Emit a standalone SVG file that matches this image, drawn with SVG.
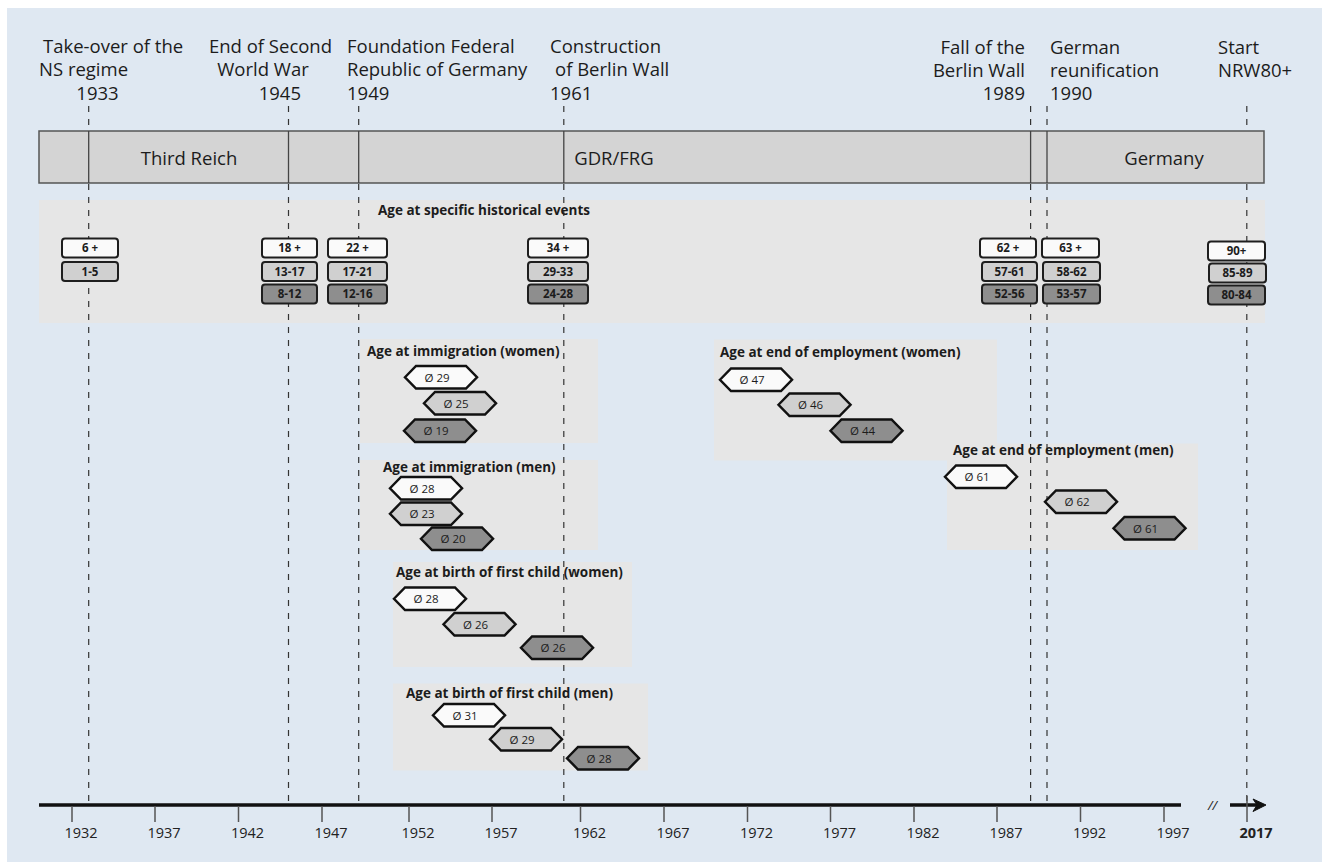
<svg xmlns="http://www.w3.org/2000/svg" xmlns:xlink="http://www.w3.org/1999/xlink" width="1322" height="862" viewBox="0 0 1322 862">
<style>
text{font-family:'Open Sans','Liberation Sans',sans-serif;fill:#1c1c1c}
.lbl{font-size:18.5px}
.ttl{font-size:13.5px;font-weight:700}
.bxt{font-size:11.5px;font-weight:700;text-anchor:middle}
.hxt{font-size:11.5px;text-anchor:middle}
.ax{font-size:14.5px;text-anchor:middle;fill:#222}
.panel{fill:#e6e6e6}
.dash{stroke:#333;stroke-width:1.2;stroke-dasharray:6 7;fill:none}
.div{stroke:#444;stroke-width:1.3}
.tick{stroke:#555;stroke-width:1.5}
.w{fill:#fafafa}.l{fill:#d0d0d0}.d{fill:#8e8e8e}
.bx{stroke:#1e1e1e;stroke-width:2}
.hex{stroke:#111;stroke-width:2.5;stroke-linejoin:miter}
</style>
<defs>
<path id="hx" d="M0,11.25 L11,0 L61,0 L72,11.25 L61,22.5 L11,22.5 Z"/>
</defs>
<rect id="background" x="7" y="8" width="1315" height="854" fill="#dfe8f2"/>

<g id="panels">
<rect id="panel-historical" class="panel" x="39" y="200" width="1226" height="123"/>
<rect id="panel-imm-women" class="panel" x="360" y="339" width="238" height="104"/>
<rect id="panel-imm-men" class="panel" x="360" y="460" width="238" height="90"/>
<rect id="panel-emp-women" class="panel" x="714" y="339.5" width="283" height="121"/>
<rect id="panel-emp-men" class="panel" x="947" y="443.5" width="251" height="106.5"/>
<rect id="panel-birth-women" class="panel" x="393" y="562" width="239" height="105"/>
<rect id="panel-birth-men" class="panel" x="393" y="683.5" width="255" height="87"/>
</g>

<g id="connectors">
<line class="dash" x1="88.7" y1="106" x2="88.7" y2="803"/>
<line class="dash" x1="288.5" y1="106" x2="288.5" y2="803"/>
<line class="dash" x1="358.7" y1="106" x2="358.7" y2="803"/>
<line class="dash" x1="563.8" y1="106" x2="563.8" y2="803"/>
<line class="dash" x1="1030.6" y1="106" x2="1030.6" y2="803"/>
<line class="dash" x1="1047" y1="106" x2="1047" y2="803"/>
<line class="dash" x1="1246.8" y1="106" x2="1246.8" y2="803"/>
</g>

<g id="period-bar">
<rect x="39" y="131" width="1225" height="52" fill="#d4d4d4" stroke="#555" stroke-width="1.5"/>
<line class="div" x1="88.7" y1="131" x2="88.7" y2="183"/>
<line class="div" x1="288.5" y1="131" x2="288.5" y2="183"/>
<line class="div" x1="358.7" y1="131" x2="358.7" y2="183"/>
<line class="div" x1="563.8" y1="131" x2="563.8" y2="183"/>
<line class="div" x1="1030.6" y1="131" x2="1030.6" y2="183"/>
<line class="div" x1="1047" y1="131" x2="1047" y2="183"/>
<text class="lbl" x="189" y="165" text-anchor="middle">Third Reich</text>
<text class="lbl" x="614" y="165" text-anchor="middle">GDR/FRG</text>
<text class="lbl" x="1164" y="165" text-anchor="middle">Germany</text>
</g>

<g id="event-1933">
<text class="lbl" x="43" y="53">Take-over of the</text>
<text class="lbl" x="39" y="76">NS regime</text>
<text class="lbl" x="97.5" y="100" text-anchor="middle">1933</text>
</g>
<g id="event-1945">
<text class="lbl" x="270.5" y="53" text-anchor="middle">End of Second</text>
<text class="lbl" x="263" y="76" text-anchor="middle">World War</text>
<text class="lbl" x="301" y="100" text-anchor="end">1945</text>
</g>
<g id="event-1949">
<text class="lbl" x="347" y="53">Foundation Federal</text>
<text class="lbl" x="347" y="76">Republic of Germany</text>
<text class="lbl" x="347" y="100">1949</text>
</g>
<g id="event-1961">
<text class="lbl" x="550" y="53">Construction</text>
<text class="lbl" x="555" y="76">of Berlin Wall</text>
<text class="lbl" x="550" y="100">1961</text>
</g>
<g id="event-1989">
<text class="lbl" x="1025" y="54" text-anchor="end">Fall of the</text>
<text class="lbl" x="1025" y="77" text-anchor="end">Berlin Wall</text>
<text class="lbl" x="1025" y="100" text-anchor="end">1989</text>
</g>
<g id="event-1990">
<text class="lbl" x="1050" y="54">German</text>
<text class="lbl" x="1050" y="77">reunification</text>
<text class="lbl" x="1050" y="100">1990</text>
</g>
<g id="event-2017">
<text class="lbl" x="1218" y="54">Start</text>
<text class="lbl" x="1218" y="77">NRW80+</text>
</g>

<g id="titles">
<text class="ttl" x="378" y="215">Age at specific historical events</text>
<text class="ttl" x="367" y="356">Age at immigration (women)</text>
<text class="ttl" x="383" y="472">Age at immigration (men)</text>
<text class="ttl" x="720" y="357">Age at end of employment (women)</text>
<text class="ttl" x="953" y="455">Age at end of employment (men)</text>
<text class="ttl" x="396" y="577">Age at birth of first child (women)</text>
<text class="ttl" x="406" y="698">Age at birth of first child (men)</text>
</g>

<g id="ages-1933">
<rect class="bx w" x="62" y="238.5" width="56" height="19" rx="3"/><text class="bxt" x="90" y="252">6 +</text>
<rect class="bx l" x="62" y="262" width="56" height="19" rx="3"/><text class="bxt" x="90" y="275.5">1-5</text>
</g>
<g id="ages-1945">
<rect class="bx w" x="262" y="238.5" width="55" height="19" rx="3"/><text class="bxt" x="289.5" y="252">18 +</text>
<rect class="bx l" x="262" y="262" width="55" height="19" rx="3"/><text class="bxt" x="289.5" y="275.5">13-17</text>
<rect class="bx d" x="262" y="284.5" width="55" height="19" rx="3"/><text class="bxt" x="289.5" y="298">8-12</text>
</g>
<g id="ages-1949">
<rect class="bx w" x="328" y="238.5" width="59" height="19" rx="3"/><text class="bxt" x="357.5" y="252">22 +</text>
<rect class="bx l" x="328" y="262" width="59" height="19" rx="3"/><text class="bxt" x="357.5" y="275.5">17-21</text>
<rect class="bx d" x="328" y="284.5" width="59" height="19" rx="3"/><text class="bxt" x="357.5" y="298">12-16</text>
</g>
<g id="ages-1961">
<rect class="bx w" x="528" y="238.5" width="60" height="19" rx="3"/><text class="bxt" x="558" y="252">34 +</text>
<rect class="bx l" x="528" y="262" width="60" height="19" rx="3"/><text class="bxt" x="558" y="275.5">29-33</text>
<rect class="bx d" x="528" y="284.5" width="60" height="19" rx="3"/><text class="bxt" x="558" y="298">24-28</text>
</g>
<g id="ages-1989">
<rect class="bx w" x="980" y="238.5" width="56" height="19" rx="3"/><text class="bxt" x="1008" y="252">62 +</text>
<rect class="bx l" x="982" y="262" width="55" height="19" rx="3"/><text class="bxt" x="1009.5" y="275.5">57-61</text>
<rect class="bx d" x="982" y="284.5" width="55" height="19" rx="3"/><text class="bxt" x="1009.5" y="298">52-56</text>
</g>
<g id="ages-1990">
<rect class="bx w" x="1042" y="238.5" width="57" height="19" rx="3"/><text class="bxt" x="1070.5" y="252">63 +</text>
<rect class="bx l" x="1043" y="262" width="57" height="19" rx="3"/><text class="bxt" x="1071.5" y="275.5">58-62</text>
<rect class="bx d" x="1043" y="284.5" width="57" height="19" rx="3"/><text class="bxt" x="1071.5" y="298">53-57</text>
</g>
<g id="ages-2017">
<rect class="bx w" x="1208" y="241.5" width="57" height="19" rx="3"/><text class="bxt" x="1236.5" y="255">90+</text>
<rect class="bx l" x="1209" y="263.5" width="57" height="19" rx="3"/><text class="bxt" x="1237.5" y="277">85-89</text>
<rect class="bx d" x="1208" y="285.5" width="57" height="19" rx="3"/><text class="bxt" x="1236.5" y="299">80-84</text>
</g>

<g id="immigration-women">
<use href="#hx" class="hex w" x="405" y="366"/><text class="hxt" x="437" y="381.5">Ø 29</text>
<use href="#hx" class="hex l" x="424" y="392"/><text class="hxt" x="456" y="407.5">Ø 25</text>
<use href="#hx" class="hex d" x="404" y="419.5"/><text class="hxt" x="436" y="435">Ø 19</text>
</g>
<g id="immigration-men">
<use href="#hx" class="hex w" x="390" y="477"/><text class="hxt" x="422" y="492.5">Ø 28</text>
<use href="#hx" class="hex l" x="390" y="502.5"/><text class="hxt" x="422" y="518">Ø 23</text>
<use href="#hx" class="hex d" x="421" y="527.5"/><text class="hxt" x="453" y="543">Ø 20</text>
</g>
<g id="employment-women">
<use href="#hx" class="hex w" x="720" y="368.5"/><text class="hxt" x="752" y="384">Ø 47</text>
<use href="#hx" class="hex l" x="778.5" y="393.5"/><text class="hxt" x="810.5" y="409">Ø 46</text>
<use href="#hx" class="hex d" x="830.5" y="419.5"/><text class="hxt" x="862.5" y="435">Ø 44</text>
</g>
<g id="employment-men">
<use href="#hx" class="hex w" x="945" y="465.5"/><text class="hxt" x="977" y="481">Ø 61</text>
<use href="#hx" class="hex l" x="1045" y="490.5"/><text class="hxt" x="1077" y="506">Ø 62</text>
<use href="#hx" class="hex d" x="1113.5" y="517"/><text class="hxt" x="1145.5" y="532.5">Ø 61</text>
</g>
<g id="birth-women">
<use href="#hx" class="hex w" x="394" y="587.5"/><text class="hxt" x="426" y="603">Ø 28</text>
<use href="#hx" class="hex l" x="443.5" y="613"/><text class="hxt" x="475.5" y="628.5">Ø 26</text>
<use href="#hx" class="hex d" x="521" y="636.5"/><text class="hxt" x="553" y="652">Ø 26</text>
</g>
<g id="birth-men">
<use href="#hx" class="hex w" x="433" y="704"/><text class="hxt" x="465" y="719.5">Ø 31</text>
<use href="#hx" class="hex l" x="490" y="728"/><text class="hxt" x="522" y="743.5">Ø 29</text>
<use href="#hx" class="hex d" x="567" y="747"/><text class="hxt" x="599" y="762.5">Ø 28</text>
</g>

<g id="time-axis">
<line x1="39" y1="805" x2="1181" y2="805" stroke="#111" stroke-width="3.5"/>
<line class="tick" x1="72" y1="806" x2="72" y2="822"/>
<line class="tick" x1="155" y1="806" x2="155" y2="822"/>
<line class="tick" x1="238.5" y1="806" x2="238.5" y2="822"/>
<line class="tick" x1="322" y1="806" x2="322" y2="822"/>
<line class="tick" x1="409" y1="806" x2="409" y2="822"/>
<line class="tick" x1="492" y1="806" x2="492" y2="822"/>
<line class="tick" x1="580.5" y1="806" x2="580.5" y2="822"/>
<line class="tick" x1="664" y1="806" x2="664" y2="822"/>
<line class="tick" x1="747.5" y1="806" x2="747.5" y2="822"/>
<line class="tick" x1="830.5" y1="806" x2="830.5" y2="822"/>
<line class="tick" x1="914" y1="806" x2="914" y2="822"/>
<line class="tick" x1="997" y1="806" x2="997" y2="822"/>
<line class="tick" x1="1080.5" y1="806" x2="1080.5" y2="822"/>
<line class="tick" x1="1164" y1="806" x2="1164" y2="822"/>
<text class="ax" x="81" y="838">1932</text>
<text class="ax" x="164" y="838">1937</text>
<text class="ax" x="247.5" y="838">1942</text>
<text class="ax" x="331" y="838">1947</text>
<text class="ax" x="418" y="838">1952</text>
<text class="ax" x="501" y="838">1957</text>
<text class="ax" x="589.5" y="838">1962</text>
<text class="ax" x="673" y="838">1967</text>
<text class="ax" x="756.5" y="838">1972</text>
<text class="ax" x="839.5" y="838">1977</text>
<text class="ax" x="923" y="838">1982</text>
<text class="ax" x="1006" y="838">1987</text>
<text class="ax" x="1089.5" y="838">1992</text>
<text class="ax" x="1173" y="838">1997</text>
<text x="1212.5" y="810" font-size="13" text-anchor="middle" font-style="italic">//</text>
<line x1="1230" y1="805" x2="1258" y2="805" stroke="#111" stroke-width="3.5"/>
<path d="M1253,799 L1266,805 L1253,811.5 L1257,805 Z" fill="#111" stroke="#111" stroke-width="1"/>
<line class="tick" x1="1247" y1="796" x2="1247" y2="822"/>
<text class="ax" x="1256" y="838" font-weight="700">2017</text>
</g>
</svg>
